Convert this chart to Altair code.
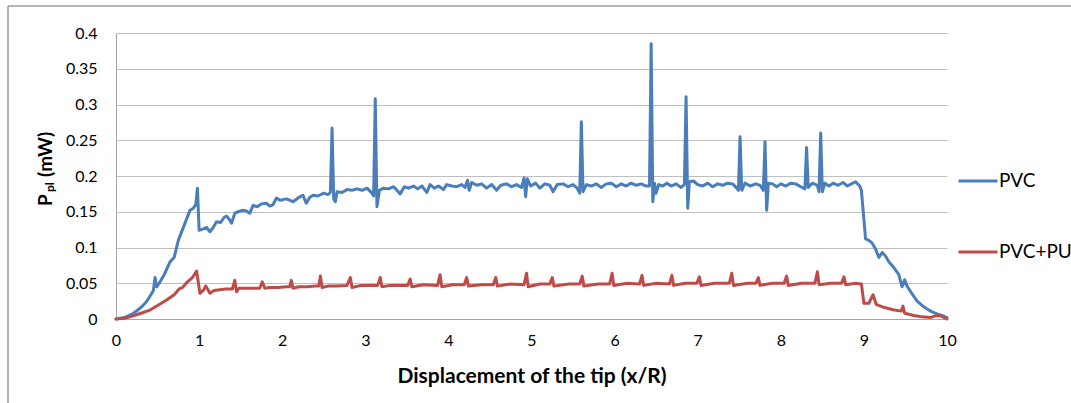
import altair as alt
import pandas as pd

# ---- data ----
pvc_x = [0.00, 0.10, 0.20, 0.30, 0.35, 0.40, 0.45, 0.47, 0.49, 0.52, 0.58, 0.65, 0.70, 0.75, 0.80,
         0.85, 0.89, 0.93, 0.96, 0.98, 1.00, 1.05, 1.09, 1.13, 1.17, 1.21, 1.26, 1.30, 1.33, 1.36,
         1.39, 1.43, 1.47, 1.52, 1.57, 1.61, 1.65, 1.70, 1.75, 1.81, 1.85, 1.89, 1.93, 1.98, 2.05,
         2.13, 2.20, 2.25, 2.29, 2.33, 2.37, 2.43, 2.50, 2.55, 2.58, 2.60, 2.62, 2.64, 2.66, 2.72,
         2.78, 2.84, 2.90, 2.96, 3.02, 3.08, 3.10, 3.12, 3.14, 3.17, 3.22, 3.28, 3.34, 3.38, 3.42,
         3.47, 3.52, 3.58, 3.63, 3.68, 3.74, 3.78, 3.83, 3.88, 3.94, 3.98, 4.04, 4.10, 4.16, 4.20,
         4.23, 4.25, 4.28, 4.34, 4.40, 4.46, 4.52, 4.58, 4.63, 4.70, 4.76, 4.82, 4.88, 4.91, 4.93,
         4.95, 4.99, 5.05, 5.10, 5.16, 5.22, 5.26, 5.31, 5.38, 5.44, 5.50, 5.55, 5.58, 5.60, 5.62,
         5.66, 5.72, 5.78, 5.84, 5.90, 5.96, 6.02, 6.08, 6.14, 6.20, 6.26, 6.32, 6.38, 6.42, 6.44,
         6.46, 6.48, 6.50, 6.53, 6.58, 6.63, 6.68, 6.74, 6.80, 6.84, 6.86, 6.88, 6.90, 6.95, 7.00,
         7.06, 7.12, 7.18, 7.24, 7.30, 7.36, 7.42, 7.47, 7.49, 7.51, 7.53, 7.57, 7.63, 7.70, 7.75,
         7.79, 7.81, 7.83, 7.85, 7.90, 7.95, 8.00, 8.06, 8.12, 8.18, 8.24, 8.29, 8.31, 8.33, 8.38,
         8.44, 8.46, 8.48, 8.50, 8.53, 8.58, 8.63, 8.69, 8.75, 8.80, 8.85, 8.90, 8.95, 8.97, 9.02,
         9.06, 9.10, 9.14, 9.18, 9.22, 9.26, 9.30, 9.36, 9.42, 9.46, 9.49, 9.52, 9.58, 9.64, 9.70,
         9.76, 9.82, 9.88, 9.94, 10.00]
pvc_y = [0.000, 0.002, 0.007, 0.016, 0.022, 0.030, 0.040, 0.058, 0.045, 0.050, 0.062, 0.080, 0.086, 0.110, 0.125,
         0.140, 0.152, 0.155, 0.160, 0.183, 0.124, 0.126, 0.128, 0.122, 0.128, 0.136, 0.135, 0.142, 0.144, 0.140,
         0.134, 0.148, 0.150, 0.152, 0.151, 0.148, 0.159, 0.157, 0.161, 0.162, 0.158, 0.160, 0.169, 0.166, 0.168,
         0.164, 0.170, 0.173, 0.162, 0.170, 0.173, 0.172, 0.176, 0.174, 0.177, 0.267, 0.168, 0.164, 0.178, 0.177,
         0.181, 0.180, 0.182, 0.180, 0.183, 0.176, 0.172, 0.308, 0.157, 0.180, 0.183, 0.182, 0.185, 0.180, 0.175,
         0.185, 0.183, 0.186, 0.182, 0.186, 0.177, 0.188, 0.183, 0.186, 0.181, 0.188, 0.186, 0.185, 0.188, 0.184,
         0.194, 0.180, 0.191, 0.187, 0.189, 0.183, 0.188, 0.180, 0.187, 0.189, 0.185, 0.188, 0.184, 0.197, 0.171,
         0.196, 0.186, 0.190, 0.183, 0.189, 0.187, 0.178, 0.188, 0.189, 0.185, 0.188, 0.183, 0.176, 0.276, 0.178,
         0.188, 0.186, 0.189, 0.184, 0.189, 0.190, 0.185, 0.189, 0.186, 0.190, 0.187, 0.189, 0.186, 0.186, 0.385,
         0.164, 0.190, 0.176, 0.188, 0.186, 0.190, 0.186, 0.189, 0.184, 0.188, 0.311, 0.155, 0.192, 0.193, 0.188,
         0.186, 0.190, 0.185, 0.189, 0.187, 0.190, 0.189, 0.183, 0.180, 0.255, 0.180, 0.190, 0.186, 0.189, 0.187,
         0.180, 0.248, 0.152, 0.190, 0.189, 0.185, 0.189, 0.186, 0.190, 0.189, 0.185, 0.182, 0.240, 0.184, 0.190,
         0.187, 0.178, 0.260, 0.178, 0.190, 0.186, 0.190, 0.187, 0.191, 0.186, 0.189, 0.192, 0.186, 0.180, 0.112,
         0.110, 0.106, 0.098, 0.086, 0.093, 0.088, 0.080, 0.072, 0.062, 0.045, 0.055, 0.046, 0.035, 0.025, 0.019,
         0.014, 0.010, 0.007, 0.005, 0.002]

pu_x = [0.00, 0.10, 0.20, 0.30, 0.40, 0.50, 0.60, 0.70, 0.76, 0.80, 0.86, 0.92, 0.97, 1.01, 1.05,
        1.08, 1.13, 1.18, 1.25, 1.32, 1.40, 1.43, 1.45, 1.48, 1.55, 1.65, 1.73, 1.76, 1.79, 1.85,
        1.95, 2.05, 2.09, 2.11, 2.13, 2.20, 2.30, 2.40, 2.44, 2.46, 2.48, 2.55, 2.65, 2.78, 2.82,
        2.84, 2.95, 3.10, 3.15, 3.18, 3.20, 3.30, 3.40, 3.51, 3.54, 3.56, 3.70, 3.87, 3.90, 3.92,
        4.05, 4.19, 4.22, 4.24, 4.40, 4.54, 4.57, 4.59, 4.75, 4.91, 4.94, 4.96, 5.10, 5.22, 5.25,
        5.27, 5.45, 5.58, 5.61, 5.63, 5.80, 5.94, 5.97, 5.99, 6.15, 6.30, 6.33, 6.35, 6.50, 6.66,
        6.69, 6.71, 6.85, 6.99, 7.02, 7.04, 7.20, 7.38, 7.41, 7.43, 7.60, 7.70, 7.73, 7.75, 7.90,
        8.04, 8.07, 8.09, 8.25, 8.41, 8.44, 8.46, 8.60, 8.73, 8.76, 8.78, 8.90, 8.97, 9.00, 9.06,
        9.11, 9.15, 9.25, 9.35, 9.45, 9.47, 9.49, 9.60, 9.70, 9.80, 9.85, 9.90, 9.95, 10.00]
pu_y = [0.000, 0.001, 0.004, 0.008, 0.012, 0.019, 0.026, 0.034, 0.042, 0.044, 0.052, 0.058, 0.067, 0.036, 0.040,
        0.046, 0.036, 0.040, 0.041, 0.042, 0.042, 0.054, 0.038, 0.043, 0.043, 0.043, 0.043, 0.052, 0.043, 0.044,
        0.044, 0.045, 0.045, 0.054, 0.043, 0.045, 0.045, 0.046, 0.046, 0.060, 0.044, 0.046, 0.046, 0.047, 0.058,
        0.044, 0.047, 0.047, 0.047, 0.058, 0.045, 0.047, 0.047, 0.047, 0.056, 0.045, 0.048, 0.047, 0.062, 0.045,
        0.048, 0.048, 0.058, 0.046, 0.048, 0.048, 0.058, 0.046, 0.049, 0.048, 0.064, 0.045, 0.049, 0.049, 0.058,
        0.046, 0.049, 0.049, 0.060, 0.046, 0.049, 0.049, 0.064, 0.047, 0.050, 0.049, 0.061, 0.047, 0.050, 0.049,
        0.061, 0.047, 0.050, 0.050, 0.059, 0.047, 0.050, 0.050, 0.064, 0.047, 0.050, 0.050, 0.058, 0.047, 0.050,
        0.050, 0.060, 0.047, 0.050, 0.050, 0.066, 0.048, 0.050, 0.050, 0.059, 0.048, 0.050, 0.049, 0.022, 0.022,
        0.034, 0.020, 0.016, 0.013, 0.011, 0.018, 0.008, 0.005, 0.003, 0.002, 0.004, 0.005, 0.003, 0.000]

series_names = ["PVC", "PVC+PU"]
series_colors = ["#4A7EBB", "#BE4B48"]
y_ticks = [0, 0.05, 0.1, 0.15, 0.2, 0.25, 0.3, 0.35, 0.4]
x_ticks = [0, 1, 2, 3, 4, 5, 6, 7, 8, 9, 10]
x_title = "Displacement of the tip (x/R)"

df = pd.concat([
    pd.DataFrame({"x": pvc_x, "y": pvc_y, "series": series_names[0]}),
    pd.DataFrame({"x": pu_x, "y": pu_y, "series": series_names[1]}),
], ignore_index=True)

FONT = "Lato"

lines = alt.Chart(df).mark_line(strokeWidth=3, strokeJoin="round", strokeCap="round").encode(
    x=alt.X("x:Q", scale=alt.Scale(domain=[0, 10], nice=False),
            axis=alt.Axis(values=x_ticks, format="d", title=x_title, grid=False, ticks=False,
                          labelFlush=False,
                          domainColor="#A6A6A6", labelPadding=13, titlePadding=17,
                          titleFontSize=21, titleFontWeight="bold", labelFontSize=16)),
    y=alt.Y("y:Q", scale=alt.Scale(domain=[0, 0.4], nice=False),
            axis=alt.Axis(values=y_ticks, format="~g", title=None, ticks=False,
                          labelFlush=False,
                          gridColor="#BFBFBF", domainColor="#A6A6A6", labelPadding=19,
                          labelFontSize=16)),
    color=alt.Color("series:N", scale=alt.Scale(domain=series_names, range=series_colors),
                    legend=alt.Legend(title=None, orient="none", legendX=841, legendY=127,
                                      symbolType="stroke", symbolSize=1521, symbolStrokeWidth=3,
                                      labelFontSize=19, labelOffset=0, rowPadding=40,
                                      padding=0, labelColor="#000000", labelLimit=200)),
)

# y axis title with subscript (P_pl (mW))
title_df = pd.DataFrame({"t": ["P"]})
t_p = alt.Chart(title_df).mark_text(angle=270, align="left", baseline="alphabetic",
                                    fontSize=19, fontWeight="bold", font=FONT, color="#000").encode(
    x=alt.value(-64), y=alt.value(173), text=alt.value("P"))
t_sub = alt.Chart(title_df).mark_text(angle=270, align="left", baseline="alphabetic",
                                      fontSize=12, fontWeight="bold", font=FONT, color="#000").encode(
    x=alt.value(-62), y=alt.value(159), text=alt.value("pl"))
t_rest = alt.Chart(title_df).mark_text(angle=270, align="left", baseline="alphabetic",
                                       fontSize=19, fontWeight="bold", font=FONT, color="#000").encode(
    x=alt.value(-64), y=alt.value(144), text=alt.value("(mW)"))

# outer chart border (top and left edges)
border_top = alt.Chart(title_df).mark_rule(color="#9A9A9A", strokeWidth=1.5).encode(
    x=alt.value(-108), x2=alt.value(960), y=alt.value(-27))
border_left = alt.Chart(title_df).mark_rule(color="#9A9A9A", strokeWidth=1.5).encode(
    x=alt.value(-108), y=alt.value(-27), y2=alt.value(375))

chart = alt.layer(lines, t_p, t_sub, t_rest, border_top, border_left).properties(
    width=831, height=286,
    autosize=alt.AutoSizeParams(type="none"),
    padding={"left": 116, "top": 33, "right": 124, "bottom": 84},
).configure(font=FONT).configure_view(stroke=None).configure_axis(
    labelColor="#000000", titleColor="#000000", labelFont=FONT, titleFont=FONT
)

chart.save("out.html", embed_options={"renderer": "svg", "actions": False})
